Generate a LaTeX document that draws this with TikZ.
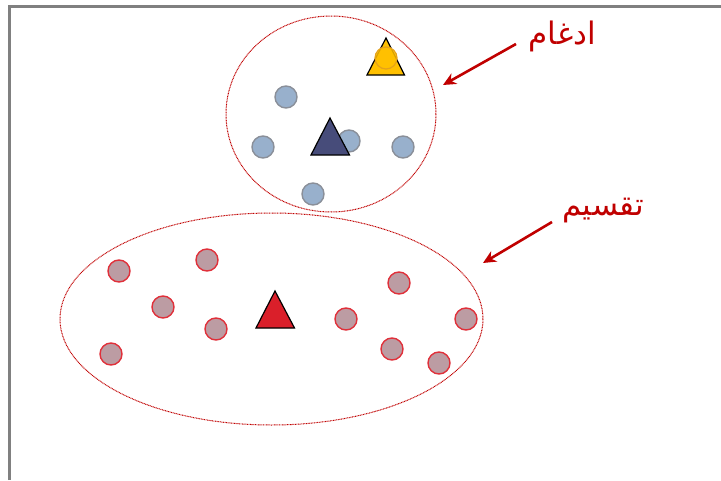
\documentclass[tikz,border=0pt]{standalone}
\usepackage{fontspec}
\newfontfamily\arabicfont[Script=Arabic]{DejaVu Sans}
\TeXXeTstate=1
\usetikzlibrary{arrows.meta}
\definecolor{frame}{HTML}{808080}
\definecolor{dred}{HTML}{C00000}
\definecolor{bluefill}{HTML}{98B0CC}
\definecolor{bluestroke}{HTML}{8A8F99}
\definecolor{navy}{HTML}{474C7A}
\definecolor{gold}{HTML}{FFC000}
\definecolor{goldstroke}{HTML}{E5A21A}
\definecolor{pinkfill}{HTML}{BC9CA3}
\definecolor{redstroke}{HTML}{E0303A}
\definecolor{redtri}{HTML}{DA1F2A}
\tikzset{
  bluept/.style={circle, draw=bluestroke, fill=bluefill, line width=1.4pt, minimum size=22pt, inner sep=0pt},
  redpt/.style={circle, draw=redstroke, fill=pinkfill, line width=1.4pt, minimum size=22pt, inner sep=0pt},
  cluster/.style={draw=dred, line width=1pt, dash pattern=on 0.9pt off 0.7pt},
  tri/.style={draw=black, line width=1.2pt, line join=miter},
  label/.style={text=dred, font=\arabicfont\fontsize{31}{36}\selectfont, inner sep=0pt},
  pointer/.style={draw=dred, line width=2.6pt, -{Stealth[length=13pt,width=12pt]}}
}
\begin{document}
\begin{tikzpicture}[x=1pt,y=-1pt]
\useasboundingbox (0,0) rectangle (721,480);
% frame
\draw[frame, line width=3pt] (9.5,480) -- (9.5,6.5) -- (721,6.5);
% clusters
\draw[cluster] (331,114) ellipse [x radius=105, y radius=98];
\draw[cluster] (271.5,319) ellipse [x radius=211.5, y radius=106];
% blue points
\node[bluept] (b1) at (286,97) {};
\node[bluept] (b2) at (263,147) {};
\node[bluept] (b3) at (349,141) {};
\node[bluept] (b4) at (403,147) {};
\node[bluept] (b5) at (313,194) {};
% navy triangle
\draw[tri, fill=navy] (330,118) -- (349.5,155) -- (311,155) -- cycle;
% yellow triangle and point
\draw[tri, fill=gold] (386,38) -- (404.5,75) -- (367,75) -- cycle;
\node[circle, draw=goldstroke, fill=gold, fill opacity=0.85, line width=1.2pt, minimum size=22pt, inner sep=0pt] (y1) at (386,58) {};
% red points
\node[redpt] (r1) at (119,271) {};
\node[redpt] (r2) at (207,260) {};
\node[redpt] (r3) at (163,307) {};
\node[redpt] (r4) at (216,329) {};
\node[redpt] (r5) at (111,354) {};
\node[redpt] (r6) at (399,283) {};
\node[redpt] (r7) at (346,319) {};
\node[redpt] (r8) at (466,319) {};
\node[redpt] (r9) at (392,349) {};
\node[redpt] (r10) at (439,363) {};
% red triangle
\draw[tri, fill=redtri] (275,291) -- (294.5,328) -- (256,328) -- cycle;
% labels
\node[label] (merge) at (562,36) {\beginR ادغام\endR};
\node[label] (split) at (603,211) {\beginR تقسیم\endR};
\coordinate (mergeend) at (443,85);
\coordinate (mergestart) at (516,44);
\coordinate (splitend) at (483,263);
\coordinate (splitstart) at (552,222);
\draw[pointer] (mergestart) -- (mergeend);
\draw[pointer] (splitstart) -- (splitend);
\end{tikzpicture}
\end{document}
